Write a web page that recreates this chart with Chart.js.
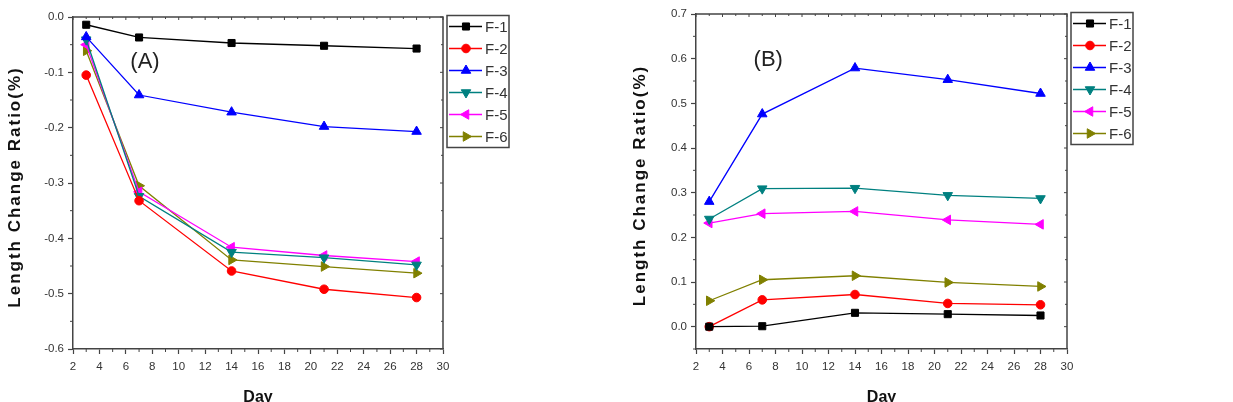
<!DOCTYPE html>
<html>
<head>
<meta charset="utf-8">
<script src="https://cdn.jsdelivr.net/npm/chart.js"></script>
<style>
  html, body { margin: 0; padding: 0; background: #fff; }
  body { width: 1233px; height: 402px; position: relative; overflow: hidden; }
  canvas { position: absolute; top: 0; }
  #chartA { left: 0; }
  #chartB { left: 616px; }
</style>
</head>
<body>
<canvas id="chartA" width="616" height="402"></canvas>
<canvas id="chartB" width="617" height="402"></canvas>
<script>
// curing age (days)
const days = [3, 7, 14, 21, 28];
const seriesNames = ["F-1", "F-2", "F-3", "F-4", "F-5", "F-6"];
const dayTicks = [2, 4, 6, 8, 10, 12, 14, 16, 18, 20, 22, 24, 26, 28, 30];

// (A) length change ratio, %
const shrinkF1 = [-0.014, -0.037, -0.047, -0.052, -0.057];
const shrinkF2 = [-0.105, -0.332, -0.459, -0.492, -0.507];
const shrinkF3 = [-0.036, -0.141, -0.172, -0.198, -0.207];
const shrinkF4 = [-0.041, -0.324, -0.425, -0.435, -0.448];
const shrinkF5 = [-0.050, -0.316, -0.416, -0.431, -0.442];
const shrinkF6 = [-0.061, -0.305, -0.439, -0.451, -0.463];
const ticksA = [-0.6, -0.5, -0.4, -0.3, -0.2, -0.1, 0.0];

// (B) length change ratio, %
const expandF1 = [0.000, 0.001, 0.031, 0.028, 0.025];
const expandF2 = [0.000, 0.060, 0.072, 0.052, 0.049];
const expandF3 = [0.280, 0.476, 0.579, 0.553, 0.522];
const expandF4 = [0.241, 0.309, 0.310, 0.294, 0.287];
const expandF5 = [0.232, 0.253, 0.258, 0.239, 0.229];
const expandF6 = [0.058, 0.105, 0.114, 0.099, 0.090];
const ticksB = [0.0, 0.1, 0.2, 0.3, 0.4, 0.5, 0.6, 0.7];

const yTitle = "Length Change Ratio(%)";
const colors = ["#000000", "#ff0000", "#0000ff", "#008080", "#ff00ff", "#808000"];
const markers = [
  { style: "rect", rotation: 0, radius: 5 },
  { style: "circle", rotation: 0, radius: 4.3 },
  { style: "triangle", rotation: 0, radius: 5.5 },
  { style: "triangle", rotation: 180, radius: 5.5 },
  { style: "triangle", rotation: -90, radius: 5.5 },
  { style: "triangle", rotation: 90, radius: 5.5 }
];

const axisColor = "#444444";
const textColor = "#333333";
const fontFamily = "'Liberation Sans', Arial, sans-serif";

function drawMarker(ctx, i, x, y) {
  const m = markers[i];
  ctx.fillStyle = colors[i];
  ctx.strokeStyle = colors[i];
  ctx.lineWidth = 1;
  Chart.helpers.drawPoint(ctx, {
    pointStyle: m.style, rotation: m.rotation, radius: m.radius, borderWidth: 1
  }, x, y);
}

// frame, minor ticks, y title, panel tag and boxed legend
const framePlugin = {
  id: "frame",
  afterDraw(chart, args, opts) {
    const { ctx, chartArea: a, scales: { x, y } } = chart;
    ctx.save();
    ctx.strokeStyle = axisColor;
    ctx.lineWidth = 1.5;
    ctx.beginPath();
    ctx.moveTo(a.left, a.top);
    ctx.lineTo(a.right, a.top);
    ctx.lineTo(a.right, a.bottom);
    ctx.stroke();

    ctx.lineWidth = 1;
    ctx.beginPath();
    // x ticks: minor below, short ones on top edge
    for (let k = 0; k < dayTicks.length; k++) {
      const px = x.getPixelForValue(dayTicks[k]);
      ctx.moveTo(px, a.top); ctx.lineTo(px, a.top + 3);
      if (k < dayTicks.length - 1) {
        const mx = x.getPixelForValue((dayTicks[k] + dayTicks[k + 1]) / 2);
        ctx.moveTo(mx, a.bottom); ctx.lineTo(mx, a.bottom + 3);
        ctx.moveTo(mx, a.top); ctx.lineTo(mx, a.top + 2);
      }
    }
    const yt = opts.yTicks;
    for (let k = 0; k < yt.length; k++) {
      const py = y.getPixelForValue(yt[k]);
      ctx.moveTo(a.right, py); ctx.lineTo(a.right - 3, py);
      if (k < yt.length - 1) {
        const my = y.getPixelForValue((yt[k] + yt[k + 1]) / 2);
        ctx.moveTo(a.left, my); ctx.lineTo(a.left - 3, my);
        ctx.moveTo(a.right, my); ctx.lineTo(a.right - 2, my);
      }
    }
    if (y.min < yt[0]) {
      const my = y.getPixelForValue(yt[0] - 0.05);
      ctx.moveTo(a.left, my); ctx.lineTo(a.left - 3, my);
    }
    ctx.stroke();

    // y axis title (wide bold lettering)
    ctx.save();
    ctx.translate(opts.titleX, (a.top + a.bottom) / 2 + 4);
    ctx.rotate(-Math.PI / 2);
    ctx.fillStyle = "#111";
    ctx.font = "bold 17px " + fontFamily;
    ctx.letterSpacing = "2px";
    ctx.textAlign = "center";
    ctx.textBaseline = "middle";
    ctx.fillText(yTitle, 0, 0);
    ctx.restore();

    // panel tag
    ctx.fillStyle = "#222";
    ctx.font = "22px " + fontFamily;
    ctx.textAlign = "center";
    ctx.textBaseline = "middle";
    ctx.fillText(opts.tag, x.getPixelForValue(opts.tagX), y.getPixelForValue(opts.tagY));

    // legend box
    const lx = a.right + 4, ly = a.top - 1.5, lw = 62, lh = 132;
    ctx.strokeStyle = axisColor;
    ctx.lineWidth = 1.5;
    ctx.strokeRect(lx, ly, lw, lh);
    ctx.font = "15px " + fontFamily;
    ctx.textAlign = "left";
    for (let i = 0; i < seriesNames.length; i++) {
      const cy = ly + 11 + 22 * i;
      ctx.strokeStyle = colors[i];
      ctx.lineWidth = 1.3;
      ctx.beginPath();
      ctx.moveTo(lx + 2, cy);
      ctx.lineTo(lx + 35, cy);
      ctx.stroke();
      drawMarker(ctx, i, lx + 19, cy);
      ctx.fillStyle = textColor;
      ctx.fillText(seriesNames[i], lx + 38, cy + 1);
    }
    ctx.restore();
  }
};

function makeChart(id, values, yTicks, yMin, yMax, tag, tagX, tagY, box, titleX) {
  const canvas = document.getElementById(id);
  const W = canvas.width, H = canvas.height;
  const datasets = values.map((vals, i) => ({
    label: seriesNames[i],
    data: days.map((d, k) => ({ x: d, y: vals[k] })),
    borderColor: colors[i],
    backgroundColor: colors[i],
    borderWidth: 1.3,
    pointStyle: markers[i].style,
    rotation: markers[i].rotation,
    pointRadius: markers[i].radius,
    pointBorderWidth: 1,
    tension: 0
  }));

  return new Chart(canvas, {
    type: "line",
    data: { datasets },
    options: {
      responsive: false,
      animation: false,
      layout: { padding: { left: 0, top: box.top, right: W - box.right, bottom: 0 } },
      plugins: {
        legend: { display: false },
        tooltip: { enabled: false },
        frame: { tag, tagX, tagY, yTicks, titleX }
      },
      scales: {
        x: {
          type: "linear",
          min: 2,
          max: 30,
          afterBuildTicks: s => { s.ticks = dayTicks.map(v => ({ value: v })); },
          afterFit: s => { s.height = H - box.bottom; },
          ticks: {
            color: textColor, padding: 6, maxRotation: 0, autoSkip: false,
            font: { family: fontFamily, size: 11.5 },
            callback: v => String(v)
          },
          grid: { drawOnChartArea: false, tickLength: 5, tickColor: axisColor, tickWidth: 1.2 },
          border: { color: axisColor, width: 1.5 },
          title: {
            display: true, text: "Day", color: "#111",
            font: { family: fontFamily, size: 16, weight: "bold", lineHeight: 1 },
            padding: { top: 0, bottom: -4 }
          }
        },
        y: {
          type: "linear",
          min: yMin,
          max: yMax,
          afterBuildTicks: s => { s.ticks = yTicks.map(v => ({ value: v })); },
          afterFit: s => { s.width = box.left; },
          ticks: {
            color: textColor, padding: 4,
            font: { family: fontFamily, size: 11.5 },
            callback: v => Number(v).toFixed(1)
          },
          grid: { drawOnChartArea: false, tickLength: 5, tickColor: axisColor, tickWidth: 1.2 },
          border: { color: axisColor, width: 1.5 }
        }
      }
    },
    plugins: [framePlugin]
  });
}

makeChart("chartA",
  [shrinkF1, shrinkF2, shrinkF3, shrinkF4, shrinkF5, shrinkF6],
  ticksA, -0.6, 0.0, "(A)", 7.45, -0.081,
  { left: 73, top: 17, right: 443, bottom: 349 }, 15);

makeChart("chartB",
  [expandF1, expandF2, expandF3, expandF4, expandF5, expandF6],
  ticksB, -0.05, 0.7, "(B)", 7.45, 0.597,
  { left: 80, top: 14, right: 451, bottom: 349 }, 24);
</script>
</body>
</html>
